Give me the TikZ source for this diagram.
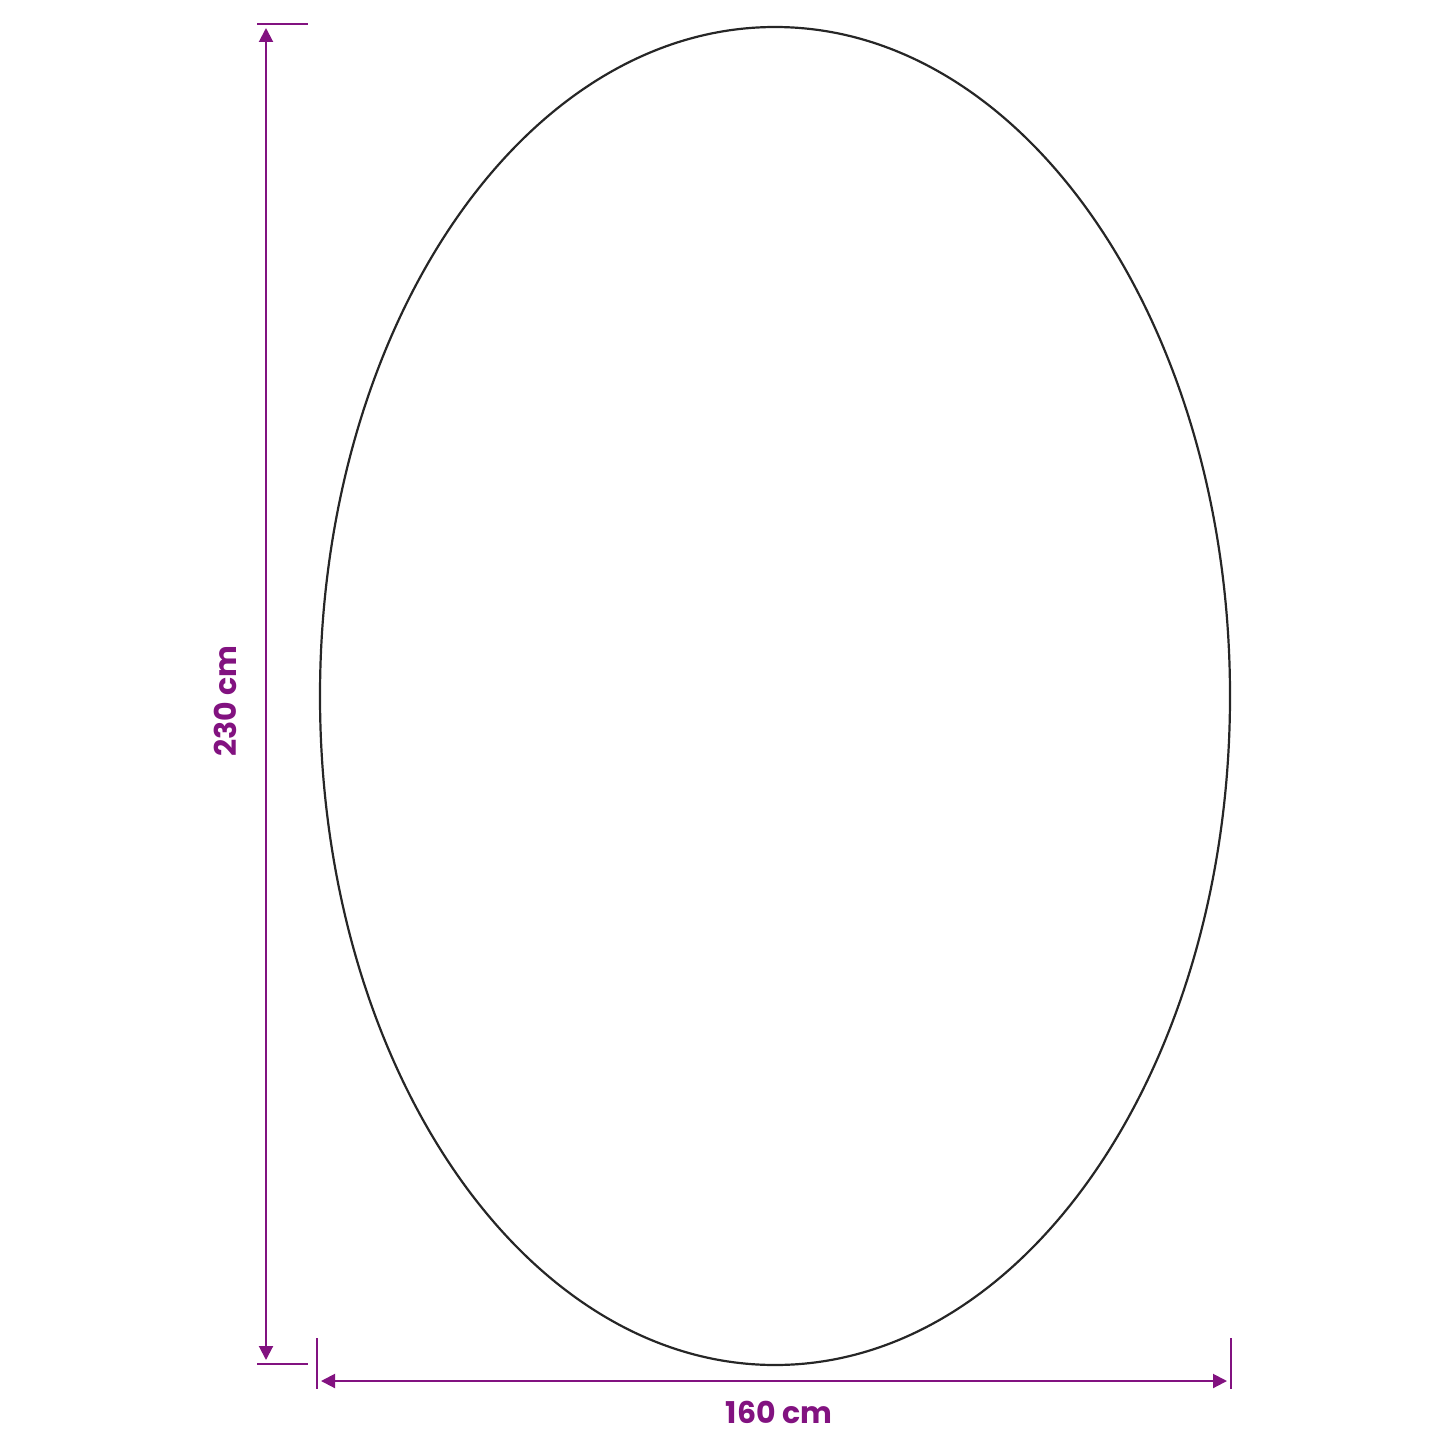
\documentclass[tikz,border=0pt]{standalone}
\usepackage{fontspec}
\setmainfont{Poppins}
\usetikzlibrary{arrows.meta}
\definecolor{dimpurple}{RGB}{130,18,128}

\begin{document}
\begin{tikzpicture}[x=0.5pt, y=-0.5pt,
    dimline/.style={draw=dimpurple, line width=1pt, {Triangle[length=7pt,width=7pt]}-{Triangle[length=7pt,width=7pt]}},
    dimtick/.style={draw=dimpurple, line width=1pt},
    dimlabel/.style={text=dimpurple, font=\fontsize{15}{18}\selectfont\bfseries, inner sep=0pt}]
    \useasboundingbox (0,0) rectangle (1445,1445);

    % draw rug outline
    \draw[line width=1.1pt, black!85] (775,696) ellipse [x radius=455, y radius=669];

    % draw tick lines
    \coordinate (ht) at (266,24);
    \coordinate (hb) at (266,1364);
    \coordinate (wl) at (317,1381);
    \coordinate (wr) at (1231,1381);
    \draw[dimtick] (257,24) -- (308,24);
    \draw[dimtick] (257,1364) -- (308,1364);
    \draw[dimtick] (317,1338) -- (317,1389);
    \draw[dimtick] (1231,1338) -- (1231,1389);

    % draw dimension lines
    \draw[dimline] ([yshift=-2pt]ht) -- ([yshift=2pt]hb);
    \draw[dimline] ([xshift=2pt]wl) -- ([xshift=-2pt]wr);

    % draw labels
    \node[dimlabel, rotate=90] (height) at (225,701) {230 cm};
    \node[dimlabel] (width) at (779,1412) {160 cm};
\end{tikzpicture}
\end{document}
